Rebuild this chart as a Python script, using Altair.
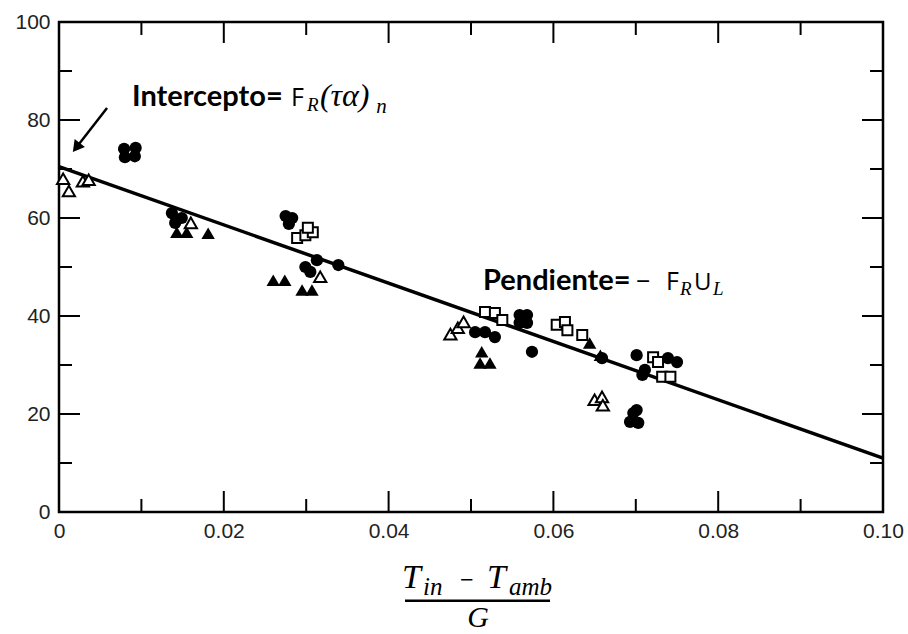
import altair as alt
import pandas as pd

# ---- data ----
fc_x = [0.0079, 0.0093, 0.0080, 0.0092, 0.0137, 0.0149, 0.0141, 0.0275, 0.0283, 0.0279,
        0.0299, 0.0305, 0.0313, 0.0339, 0.0505, 0.0517, 0.0529, 0.0559, 0.0568, 0.0559,
        0.0568, 0.0574, 0.0659, 0.0701, 0.0711, 0.0708, 0.0739, 0.0750, 0.0697, 0.0693,
        0.0703, 0.0701]
fc_y = [74.1, 74.3, 72.4, 72.6, 61.0, 60.0, 59.0, 60.4, 60.0, 58.8,
        50.0, 49.0, 51.4, 50.4, 36.7, 36.7, 35.7, 40.2, 40.2, 38.6,
        38.6, 32.7, 31.4, 32.0, 29.0, 28.0, 31.4, 30.6, 20.2, 18.4,
        18.2, 20.8]

ft_x = [0.0143, 0.0155, 0.0181, 0.0260, 0.0274, 0.0295, 0.0307, 0.0513, 0.0511, 0.0523,
        0.0644, 0.0657]
ft_y = [57.1, 57.1, 56.9, 47.3, 47.3, 45.3, 45.3, 32.7, 30.4, 30.4, 34.5, 32.0]

ot_x = [0.0005, 0.0012, 0.0029, 0.0036, 0.0160, 0.0317, 0.0475, 0.0484, 0.0491,
        0.0650, 0.0659, 0.0660]
ot_y = [68.0, 65.5, 67.5, 67.8, 59.0, 48.0, 36.3, 37.6, 38.8, 22.9, 23.5, 21.8]

os_x = [0.0289, 0.0299, 0.0308, 0.0302, 0.0517, 0.0529, 0.0538, 0.0604, 0.0614,
        0.0617, 0.0635, 0.0721, 0.0727, 0.0732, 0.0742]
os_y = [55.9, 56.5, 57.1, 58.0, 40.8, 40.6, 39.2, 38.2, 38.8, 37.1, 36.1,
        31.6, 30.6, 27.6, 27.6]

line_x = [0.0, 0.10]
line_y = [70.5, 11.0]

x_major = [0.02, 0.04, 0.06, 0.08]
x_minor = [0.01, 0.03, 0.05, 0.07, 0.09]
y_major = [20, 40, 60, 80]
y_minor = [10, 30, 50, 70, 90]
x_label_values = [0, 0.02, 0.04, 0.06, 0.08, 0.10]
y_label_values = [0, 20, 40, 60, 80, 100]

# ---- scales / axes ----
W, H = 824, 490
xs = alt.Scale(domain=[0, 0.10], nice=False, zero=False)
ys = alt.Scale(domain=[0, 100], nice=False, zero=False)
xaxis = alt.Axis(values=x_label_values, domain=False, ticks=False, tickSize=0, grid=False,
                 labelExpr="datum.value == 0 ? '0' : format(datum.value, '.2f')",
                 labelPadding=8, labelFontSize=21, labelFont="Liberation Sans",
                 labelColor="#222222", labelFlush=False)
yaxis = alt.Axis(values=y_label_values, domain=False, ticks=False, tickSize=0, grid=False,
                 format="d", labelPadding=9, labelFontSize=21, labelFont="Liberation Sans",
                 labelColor="#222222", labelFlush=False)


def X(field):
    return alt.X(field, type="quantitative", scale=xs, axis=xaxis, title=None)


def Y(field):
    return alt.Y(field, type="quantitative", scale=ys, axis=yaxis, title=None)


def pts(xv, yv):
    return pd.DataFrame({"x": xv, "y": yv})


layers = []

# regression line
layers.append(alt.Chart(pts(line_x, line_y)).mark_line(color="black", strokeWidth=3.5)
              .encode(x=X("x"), y=Y("y")))

# markers
layers.append(alt.Chart(pts(fc_x, fc_y)).mark_point(shape="circle", filled=True, size=150,
                                                     color="black", opacity=1)
              .encode(x=X("x"), y=Y("y")))
layers.append(alt.Chart(pts(ft_x, ft_y)).mark_point(shape="triangle-up", filled=True, size=180,
                                                     color="black", opacity=1)
              .encode(x=X("x"), y=Y("y")))
layers.append(alt.Chart(pts(ot_x, ot_y)).mark_point(shape="triangle-up", filled=False, size=150,
                                                     stroke="black", fill="white", strokeWidth=2,
                                                     opacity=1, fillOpacity=1)
              .encode(x=X("x"), y=Y("y")))
layers.append(alt.Chart(pts(os_x, os_y)).mark_point(shape="square", filled=False, size=100,
                                                     stroke="black", fill="white", strokeWidth=2,
                                                     opacity=1, fillOpacity=1)
              .encode(x=X("x"), y=Y("y")))

# inward ticks (all four sides)
MAJ, MIN = 21, 13
for vals, L in ((x_major, MAJ), (x_minor, MIN)):
    d = pd.DataFrame({"v": vals})
    layers.append(alt.Chart(d).mark_rule(color="black", strokeWidth=2)
                  .encode(x=X("v"), y=alt.value(H), y2=alt.value(H - L)))
    layers.append(alt.Chart(d).mark_rule(color="black", strokeWidth=2)
                  .encode(x=X("v"), y=alt.value(0), y2=alt.value(L)))
for vals, L in ((y_major, MAJ), (y_minor, MIN)):
    d = pd.DataFrame({"v": vals})
    layers.append(alt.Chart(d).mark_rule(color="black", strokeWidth=2)
                  .encode(y=Y("v"), x=alt.value(0), x2=alt.value(L)))
    layers.append(alt.Chart(d).mark_rule(color="black", strokeWidth=2)
                  .encode(y=Y("v"), x=alt.value(W), x2=alt.value(W - L)))


# ---- annotations ----
def txt(x, y, s, font, size, weight="normal", style="normal", align="left"):
    d = pd.DataFrame({"x": [x], "y": [y], "t": [s]})
    return (alt.Chart(d).mark_text(align=align, baseline="alphabetic", font=font, fontSize=size,
                                   fontWeight=weight, fontStyle=style, color="black")
            .encode(x=X("x"), y=Y("y"), text="t:N"))


SERIF = "Liberation Serif"
SANS = "Open Sans"
LABEL = "Lato"

# Intercepto
layers.append(txt(0.00886, 82.76, "Intercepto=", LABEL, 29, weight="bold"))
layers.append(txt(0.02816, 82.76, "F", SANS, 25))
layers.append(txt(0.03010, 81.80, "R", SERIF, 19, style="italic"))
layers.append(txt(0.03167, 82.76, "(τα)", SERIF, 32, style="italic"))
layers.append(txt(0.03850, 81.40, "n", SERIF, 21, style="italic"))

# arrow
arrow_d = pd.DataFrame({"x": [0.00583], "y": [82.45], "x2": [0.00210], "y2": [74.40]})
layers.append(alt.Chart(arrow_d).mark_rule(color="black", strokeWidth=2.5)
              .encode(x=X("x"), y=Y("y"), x2="x2:Q", y2="y2:Q"))
layers.append(alt.Chart(pd.DataFrame({"x": [0.00210], "y": [74.40]}))
              .mark_point(shape="triangle-up", filled=True, size=170, angle=218,
                          color="black", opacity=1)
              .encode(x=X("x"), y=Y("y")))

# Pendiente
layers.append(txt(0.05146, 45.31, "Pendiente=", LABEL, 29, weight="bold"))
layers.append(txt(0.07090, 45.31, "\u2212", SANS, 25, align="center"))
layers.append(txt(0.07367, 45.31, "F", SANS, 25))
layers.append(txt(0.07537, 44.29, "R", SERIF, 19, style="italic"))
layers.append(txt(0.07706, 45.31, "U", SANS, 24))
layers.append(txt(0.07937, 44.29, "L", SERIF, 19, style="italic"))

# x-axis title as a fraction
layers.append(txt(0.04163, -15.51, "T", SERIF, 34, style="italic"))
layers.append(txt(0.04417, -16.94, "in", SERIF, 25, style="italic"))
layers.append(txt(0.04950, -15.51, "\u2212", SANS, 24, align="center"))
layers.append(txt(0.05194, -15.51, "T", SERIF, 34, style="italic"))
layers.append(txt(0.05461, -16.94, "amb", SERIF, 25, style="italic"))
bar_d = pd.DataFrame({"x": [0.04199], "y": [-18.10], "x2": [0.05959]})
layers.append(alt.Chart(bar_d).mark_rule(color="black", strokeWidth=2.5)
              .encode(x=X("x"), x2="x2:Q", y=Y("y")))
layers.append(txt(0.05085, -23.50, "G", SERIF, 30, style="italic", align="center"))

chart = (alt.layer(*layers)
         .properties(width=W, height=H,
                     autosize=alt.AutoSizeParams(type="none"),
                     padding={"left": 59, "top": 22, "right": 25, "bottom": 122},
                     background="white")
         .configure_view(stroke="black", strokeWidth=2.5))

chart.save("out.html", embed_options={"renderer": "svg", "actions": False})
